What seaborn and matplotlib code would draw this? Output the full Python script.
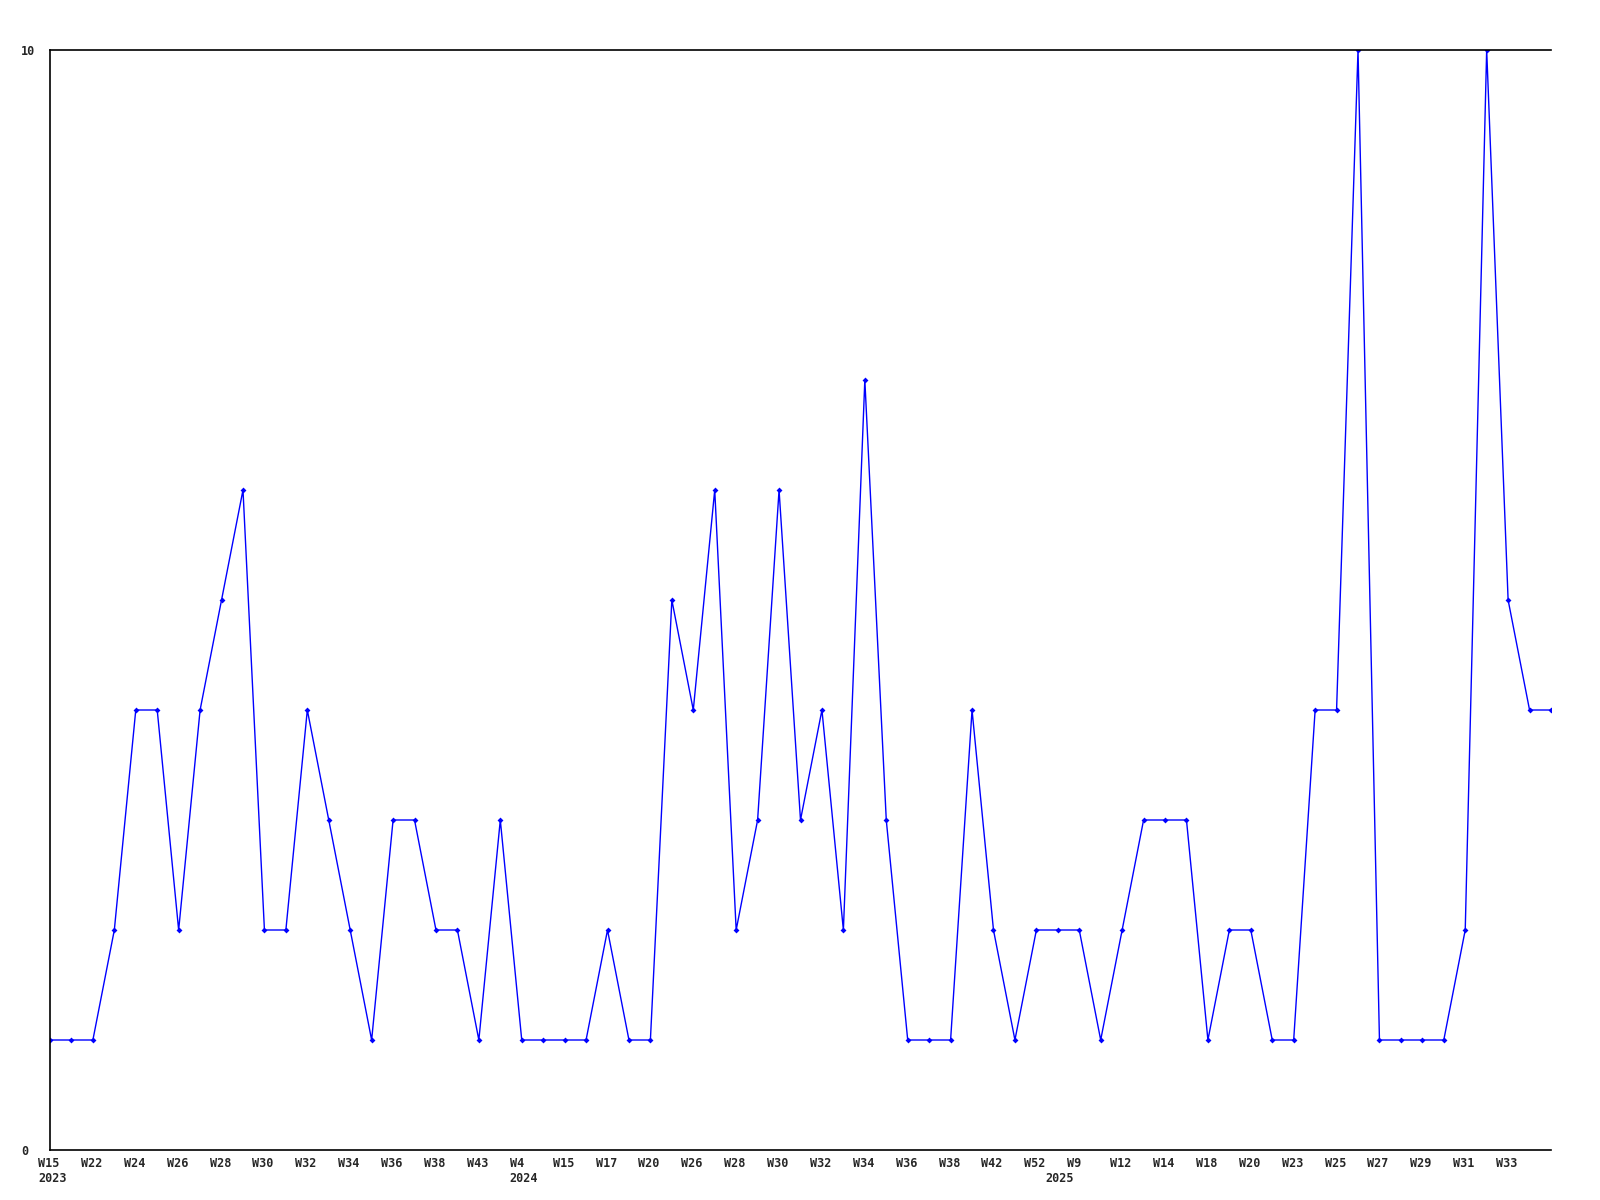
import numpy as np
import pandas as pd
import seaborn as sns
from matplotlib import pyplot as plt
from matplotlib.transforms import ScaledTranslation

# Weekly counts, one value per week that has data
counts = [1, 1, 1, 2, 4, 4, 2, 4, 5, 6,
          2, 2, 4, 3, 2, 1, 3, 3, 2, 2,
          1, 3, 1, 1, 1, 1, 2, 1, 1, 5,
          4, 6, 2, 3, 6, 3, 4, 2, 7, 3,
          1, 1, 1, 4, 2, 1, 2, 2, 2, 1,
          2, 3, 3, 3, 1, 2, 2, 1, 1, 4,
          4, 10, 1, 1, 1, 1, 2, 10, 5, 4,
          4]

# Labels shown on every second point
week_labels = ['W15', 'W22', 'W24', 'W26', 'W28', 'W30', 'W32', 'W34',
               'W36', 'W38', 'W43', 'W4', 'W15', 'W17', 'W20', 'W26',
               'W28', 'W30', 'W32', 'W34', 'W36', 'W38', 'W42', 'W52',
               'W9', 'W12', 'W14', 'W18', 'W20', 'W23', 'W25', 'W27',
               'W29', 'W31', 'W33']

# Year labels under the first week of each year
years = ['2023', '2024', '2025']
year_idx = [0, 22, 47]

df = pd.DataFrame({'idx': np.arange(len(counts)), 'count': counts})

sns.set_style('white')
plt.rcParams['font.family'] = ['DejaVu Sans Mono']

fig = plt.figure(figsize=(16, 12), dpi=100)
ax = fig.add_axes([50 / 1600, 50 / 1200, 1501 / 1600, 1100 / 1200])

sns.lineplot(data=df, x='idx', y='count', ax=ax, color='#0000ff', linewidth=1,
             marker='D', markersize=3, markeredgewidth=0)

ax.set_xlim(0, len(counts) - 1)
ax.set_ylim(0, 10)
ax.xaxis.remove_overlapping_locs = False
ax.set_xticks(np.arange(0, 2 * len(week_labels), 2))
ax.set_xticklabels(week_labels, fontsize=8.5, fontweight='bold')
ax.set_xticks(year_idx, minor=True)
ax.set_xticklabels(years, minor=True, fontsize=8.5, fontweight='bold')
ax.set_yticks([0, 10])
ax.set_yticklabels(['0', '10'], fontsize=8.5, fontweight='bold', ha='left')
ax.tick_params(axis='x', which='major', length=0, pad=5)
ax.tick_params(axis='x', which='minor', length=0, pad=16)
ax.tick_params(axis='y', length=0, pad=21)
ax.set_xlabel('')
ax.set_ylabel('')

shift = ScaledTranslation(-12 / 100, 0, fig.dpi_scale_trans)
for lab in ax.get_xticklabels() + ax.get_xticklabels(minor=True):
    lab.set_horizontalalignment('left')
    lab.set_transform(lab.get_transform() + shift)

for side in ['left', 'top', 'bottom']:
    ax.spines[side].set_color('black')
    ax.spines[side].set_linewidth(1.2)
ax.spines['right'].set_visible(False)

fig.savefig('out.png', dpi=100)
